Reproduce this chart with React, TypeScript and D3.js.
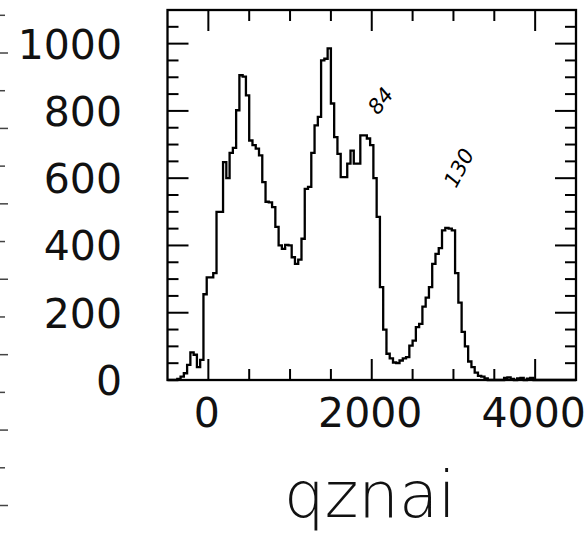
import React, { useRef, useEffect } from 'react';
import * as d3 from 'd3';

// qznai histogram, bins of 40 starting at -500 (125 bins up to 4500)
const binStart = -500;
const binWidth = 40;
const counts = [
  0, 0, 0, 3, 10, 20, 45, 82, 75, 38,
  60, 255, 305, 305, 318, 500, 500, 648, 600, 675,
  690, 802, 906, 902, 846, 712, 698, 688, 668, 588,
  530, 528, 514, 455, 400, 390, 402, 400, 365, 345,
  358, 420, 568, 574, 675, 757, 782, 950, 955, 986,
  822, 722, 672, 603, 603, 643, 682, 643, 643, 727,
  727, 718, 698, 600, 485, 276, 150, 78, 64, 52,
  50, 58, 64, 68, 102, 117, 157, 167, 218, 245,
  276, 345, 375, 392, 445, 452, 450, 445, 318, 230,
  143, 100, 55, 38, 22, 12, 10, 5, 0, 0,
  0, 0, 0, 6, 8, 3, 0, 5, 6, 0,
  4, 6, 0, 0, 0, 0, 0, 0, 0, 0,
  0, 0, 0, 0, 0,
];

const xDomain = [-500, 4500];
const yDomain = [0, 1100];
const xTickLabels = [0, 2000, 4000];
const yTickLabels = [0, 200, 400, 600, 800, 1000];
const xMinorStep = 500;
const yMinorStep = 50;
const xTitle = 'qznai';

// hand written notes on the scan
const notes = [
  { text: '84', x: 2110, y: 830, angle: -52 },
  { text: '130', x: 3070, y: 630, angle: -62 },
];

const Chart = ({ width, height }) => {
  const svg = useRef(null);

  useEffect(() => {
    const root = d3.select(svg.current);
    root.selectAll('*').remove();

    const xScale = d3.scaleLinear().domain(xDomain).range([167.5, 576]);
    const yScale = d3.scaleLinear().domain(yDomain).range([380, 10]);

    const font = "'DejaVu Sans', sans-serif";

    root.append('rect')
      .attr('width', width)
      .attr('height', height)
      .attr('fill', 'white');

    // stray marks of a cut-off axis at the left edge of the scan
    const edgeY = d3.scaleLinear().domain([0, 13]).range([15.3, 505.5]);
    root.append('g')
      .selectAll('line')
      .data(d3.range(14))
      .join('line')
      .attr('x1', 0)
      .attr('x2', (d) => (d % 2 ? 8 : 5))
      .attr('y1', (d) => edgeY(d))
      .attr('y2', (d) => edgeY(d))
      .attr('stroke', '#444')
      .attr('stroke-width', 1.5);

    // histogram outline
    const pts = [[binStart, 0]];
    counts.forEach((c, i) => pts.push([binStart + i * binWidth, c]));
    pts.push([binStart + counts.length * binWidth, counts[counts.length - 1]]);
    pts.push([binStart + counts.length * binWidth, 0]);

    const step = d3.line()
      .x((d) => xScale(d[0]))
      .y((d) => yScale(d[1]))
      .curve(d3.curveStepAfter);

    root.append('path')
      .datum(pts)
      .attr('d', step)
      .attr('fill', 'none')
      .attr('stroke', '#000')
      .attr('stroke-width', 2.3);

    // frame
    const [x0, x1] = xScale.range();
    const [y0, y1] = yScale.range();
    root.append('rect')
      .attr('x', x0)
      .attr('y', y1)
      .attr('width', x1 - x0)
      .attr('height', y0 - y1)
      .attr('fill', 'none')
      .attr('stroke', '#000')
      .attr('stroke-width', 2.3);

    // ticks point inward on all four sides
    const xTicks = d3.range(xDomain[0] + xMinorStep, xDomain[1], xMinorStep);
    const yTicks = d3.range(yDomain[0] + yMinorStep, yDomain[1], yMinorStep);
    const xLen = (v) => (xTickLabels.includes(v) ? 21 : 11);
    const yLen = (v) => (v % 200 === 0 ? 21 : 11);

    const ticks = root.append('g').attr('stroke', '#000').attr('stroke-width', 2);

    ticks.selectAll('.xb')
      .data(xTicks)
      .join('line')
      .attr('class', 'xb')
      .attr('x1', (d) => xScale(d))
      .attr('x2', (d) => xScale(d))
      .attr('y1', y0)
      .attr('y2', (d) => y0 - xLen(d));

    ticks.selectAll('.xt')
      .data(xTicks)
      .join('line')
      .attr('class', 'xt')
      .attr('x1', (d) => xScale(d))
      .attr('x2', (d) => xScale(d))
      .attr('y1', y1)
      .attr('y2', (d) => y1 + xLen(d));

    ticks.selectAll('.yl')
      .data(yTicks)
      .join('line')
      .attr('class', 'yl')
      .attr('x1', x0)
      .attr('x2', (d) => x0 + yLen(d))
      .attr('y1', (d) => yScale(d))
      .attr('y2', (d) => yScale(d));

    ticks.selectAll('.yr')
      .data(yTicks)
      .join('line')
      .attr('class', 'yr')
      .attr('x1', x1)
      .attr('x2', (d) => x1 - yLen(d))
      .attr('y1', (d) => yScale(d))
      .attr('y2', (d) => yScale(d));

    // tick labels
    root.append('g')
      .selectAll('text')
      .data(yTickLabels)
      .join('text')
      .attr('x', 122)
      .attr('y', (d) => yScale(d) + 15)
      .attr('text-anchor', 'end')
      .attr('font-family', font)
      .attr('font-size', 41)
      .attr('fill', '#111')
      .text((d) => d);

    root.append('g')
      .selectAll('text')
      .data(xTickLabels)
      .join('text')
      .attr('x', (d) => xScale(d) - 1.5)
      .attr('y', 427)
      .attr('text-anchor', 'middle')
      .attr('font-family', font)
      .attr('font-size', 41)
      .attr('fill', '#111')
      .text((d) => d);

    root.append('text')
      .attr('x', 370)
      .attr('y', 517)
      .attr('text-anchor', 'middle')
      .attr('font-family', font)
      .attr('font-weight', 200)
      .attr('font-size', 64)
      .attr('fill', '#111')
      .text(xTitle);

    // pencil notes
    root.append('g')
      .selectAll('text')
      .data(notes)
      .join('text')
      .attr('transform', (d) => `translate(${xScale(d.x)}, ${yScale(d.y)}) rotate(${d.angle})`)
      .attr('text-anchor', 'middle')
      .attr('dominant-baseline', 'central')
      .attr('font-family', font)
      .attr('font-style', 'italic')
      .attr('font-size', 21)
      .attr('fill', '#000')
      .text((d) => d.text);
  }, []);

  return (
    <svg
      width={width}
      height={height}
      ref={svg}
      style={{ position: 'absolute', left: 0, top: 0 }}
    ></svg>
  );
};

export default function App() {
  return <Chart width={587} height={533} />;
}
